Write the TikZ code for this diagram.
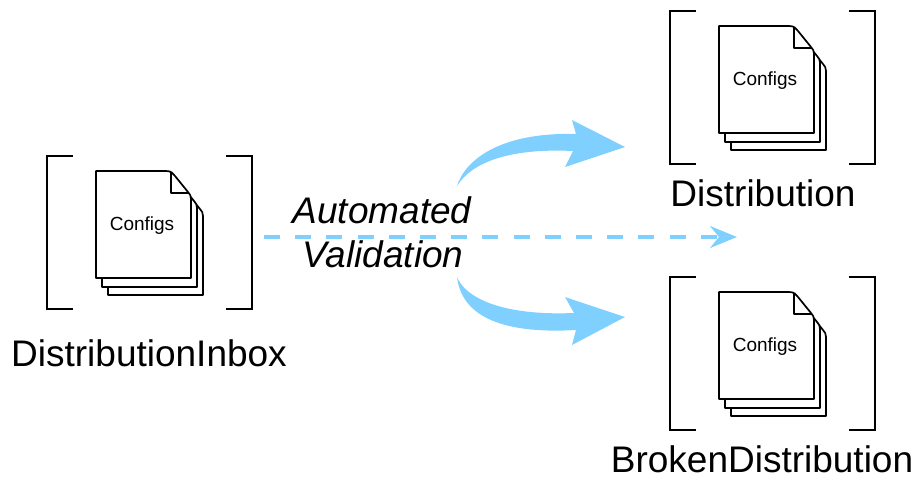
\documentclass[tikz,border=0pt]{standalone}
\usepackage{fontspec}
\setmainfont{Liberation Sans}
\usetikzlibrary{arrows.meta}

\definecolor{flowblue}{HTML}{7FD0FF}

\tikzset{
  sheet/.style={draw=black,line width=1.7pt,fill=white,line join=round},
  bracket/.style={draw=black,line width=1.7pt},
  configtext/.style={font=\fontsize{19}{21}\selectfont,inner sep=0pt},
  boxname/.style={font=\fontsize{37}{40}\selectfont,inner sep=0pt},
  flowname/.style={font=\fontsize{37}{40}\selectfont\itshape,inner sep=0pt},
  fatarrow/.style={fill=flowblue,draw=none},
  dasharrow/.style={draw=flowblue,line width=3.5pt,dash pattern=on 16pt off 15.2pt,
    -{Stealth[length=27pt,width=22pt,inset=9pt]}},
  configstack/.pic={
    \draw[bracket] (-23,-15) -- (-49,-15) -- (-49,138) -- (-23,138);
    \draw[bracket] (130,-15) -- (156,-15) -- (156,138) -- (130,138);
    \foreach \dx/\dy in {12/17,6/9,0/0}
      \draw[sheet,shift={(\dx,\dy)}] (0,0) -- (70,0) .. controls (75,0) and (77,2) .. (79,5)
        -- (92,21) .. controls (94,23) and (95,25) .. (95,28) -- (95,107) -- (0,107) -- cycle;
    \draw[sheet,fill=none] (75,1) -- (75,22) -- (92,22);
    \node[configtext] (-label) at (46,55) {Configs};
  }
}

\begin{document}
\begin{tikzpicture}[x=1pt,y=-1pt]
\useasboundingbox (0,0) rectangle (915,477);

\pic (inbox) at (96,171) {configstack};
\pic (dist) at (719,26) {configstack};
\pic (broken) at (719,292) {configstack};

\node[boxname] (inboxname) at (149,353.5) {DistributionInbox};
\node[boxname] (distname) at (763,193.5) {Distribution};
\node[boxname] (brokenname) at (762,459) {BrokenDistribution};

\node[flowname] (automated) at (382,210.5) {Automated};
\node[flowname] (validation) at (383,254.5) {Validation};

% dashed flow through the label
\coordinate (dashstart) at (264,237);
\coordinate (dashend) at (737,237);
\draw[dasharrow] (dashstart) -- (dashend);

% fat arrows
\fill[fatarrow] (457,186) .. controls (465,160) and (500,132) .. (576,134)
  -- (572,120) -- (625,147) -- (565,167) -- (573,151)
  .. controls (510,148) and (472,162) .. (457,186) -- cycle;
\fill[fatarrow] (457,277) .. controls (465,297) and (500,316) .. (574,313)
  -- (565,297) -- (625,317) -- (572,345) -- (576,330)
  .. controls (505,334) and (462,318) .. (457,277) -- cycle;

\end{tikzpicture}
\end{document}
